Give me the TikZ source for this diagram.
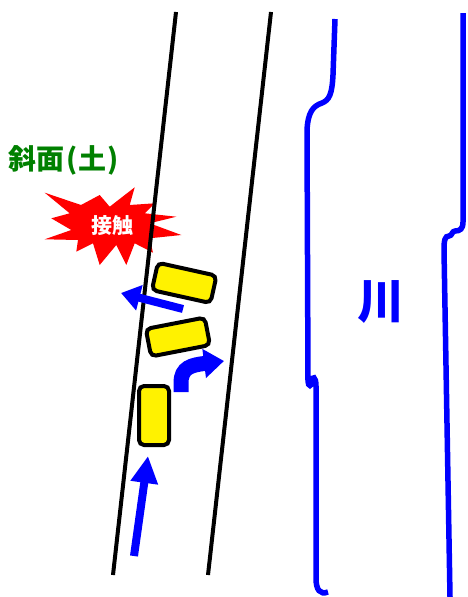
\documentclass[tikz,border=0pt]{standalone}
\usepackage{fontspec}
\newfontfamily\jpfont{Noto Sans CJK JP}
\usetikzlibrary{arrows.meta}

\begin{document}
\begin{tikzpicture}[x=1pt,y=-1pt]

\tikzset{road/.style={line width=4pt, color=black},
car/.style={draw=black, line width=4pt, fill=yellow, rounded corners=5pt,
  minimum width=60pt, minimum height=28pt, inner sep=0pt},
bank/.style={line width=5.5pt, color=blue},
move/.style={color=blue, line width=8pt, -{Triangle[width=26pt,length=27pt]}}}

\useasboundingbox (0,0) rectangle (468,597);

% the crash burst
\fill[red] (44.7,192.7) -- (81,205) -- (99.7,195) -- (109.7,206.7) -- (134.7,187.3)
  -- (129.7,205) -- (154.7,203.3) -- (144.7,213.3) -- (176.3,216.7) -- (149.7,223.3)
  -- (181.3,235) -- (149.7,238.3) -- (153,252.7) -- (134.7,243.3) -- (126.3,265)
  -- (116.3,245) -- (99.7,265) -- (93,243.3) -- (76.3,251.7) -- (78,240)
  -- (44.7,239.3) -- (71.3,230) -- (51.3,218.3) -- (69.7,213.3) -- cycle;
\node[text=white, font=\jpfont\bfseries\fontsize{21}{21}\selectfont] (hit) at (112,226) {接触};

\node[text=green!50!black, font=\jpfont\bfseries\fontsize{28}{28}\selectfont] (slope) at (64,160)
  {斜面\kern2pt(\kern1pt土\kern1pt)};

% road edges
\foreach \x/\y/\z/\a in {176/12/113/575, 271/12/208/575}
  \draw[road] (\x,\y) -- (\z,\a);

% river banks
\draw[bank] (335,19) -- (333,75) .. controls (332,95) and (329,100) .. (322,103)
  .. controls (313,106) and (308,112) .. (307,130) -- (308,381)
  .. controls (308,387) and (312,387) .. (312,381) .. controls (312,376) and (316,376) .. (316,386)
  -- (316,578) .. controls (316,590) and (320,595) .. (328,592);
\draw[bank] (463,13) -- (463,222) .. controls (463,229) and (460,231) .. (455,231)
  .. controls (452,231) and (452,236) .. (449,236) .. controls (445,236) and (444,240) .. (444,250)
  -- (450,597);
\node[text=blue, font=\jpfont\bfseries\fontsize{47}{47}\selectfont] (river) at (381,302) {川};

% cars
\node[car, rotate=-12.5] (car1) at (184.2,282.9) {};
\node[car, rotate=11] (car2) at (177.9,337) {};
\node[car, minimum width=30pt, minimum height=59pt] (car3) at (154,415.5) {};

% movements
\draw[move] (134,556) -- (148,456);
\draw[move, -{Triangle[width=25pt,length=19pt]}] (183,309) -- (121,293);
\draw[color=blue, line width=15pt, -{Triangle[width=28pt,length=20pt]}]
  (181,392) -- (181,383) .. controls (181,367) and (192,365) .. (224,361);

\end{tikzpicture}
\end{document}
